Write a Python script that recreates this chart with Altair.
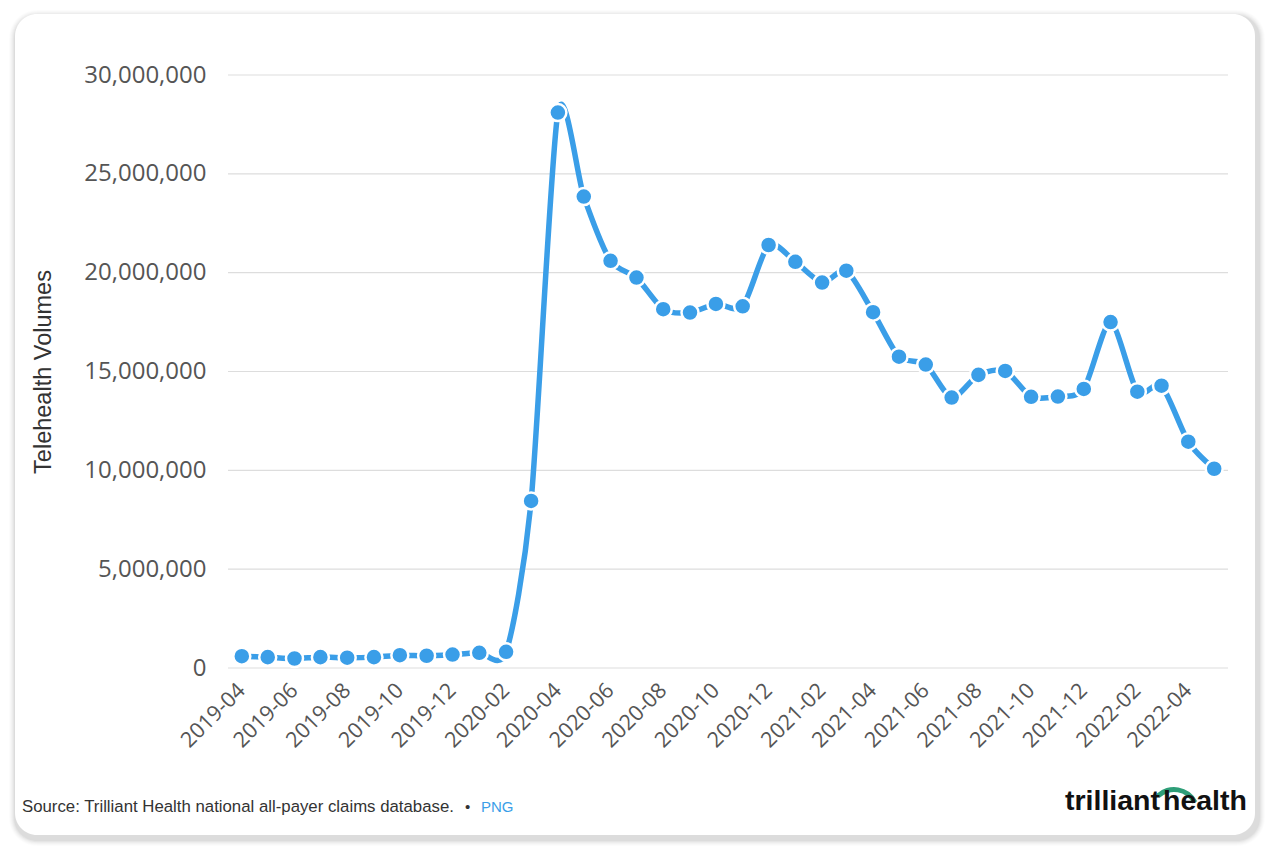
import altair as alt
import pandas as pd

# ---- data ----
months = [
    "2019-04", "2019-05", "2019-06", "2019-07", "2019-08", "2019-09", "2019-10",
    "2019-11", "2019-12", "2020-01", "2020-02", "2020-03", "2020-04", "2020-05",
    "2020-06", "2020-07", "2020-08", "2020-09", "2020-10", "2020-11", "2020-12",
    "2021-01", "2021-02", "2021-03", "2021-04", "2021-05", "2021-06", "2021-07",
    "2021-08", "2021-09", "2021-10", "2021-11", "2021-12", "2022-01", "2022-02",
    "2022-03", "2022-04", "2022-05",
]
volumes = [
    600000, 550000, 480000, 550000, 520000, 550000, 650000,
    620000, 680000, 770000, 820000, 8450000, 28100000, 23850000,
    20600000, 19750000, 18150000, 17980000, 18420000, 18300000, 21400000,
    20550000, 19500000, 20100000, 18000000, 15750000, 15350000, 13680000,
    14830000, 15030000, 13720000, 13730000, 14120000, 17500000, 13980000,
    14280000, 11450000, 10080000,
]
tick_labels = [
    "2019-04", "2019-06", "2019-08", "2019-10", "2019-12", "2020-02", "2020-04",
    "2020-06", "2020-08", "2020-10", "2020-12", "2021-02", "2021-04", "2021-06",
    "2021-08", "2021-10", "2021-12", "2022-02", "2022-04",
]
y_ticks = [0, 5000000, 10000000, 15000000, 20000000, 25000000, 30000000]
y_title = "Telehealth Volumes"
source_text = "Source: Trilliant Health national all-payer claims database."
source_link = "PNG"

df = pd.DataFrame({"date": pd.to_datetime([m + "-01" for m in months]), "value": volumes})
grid_df = pd.DataFrame({"value": y_ticks})

BLUE = "#3a9ee8"
W, H = 1000, 593


def dt(s, day=1):
    y, m = s.split("-")
    return alt.DateTime(year=int(y), month=int(m), date=day)


y_scale = alt.Scale(domain=[0, 30000000], nice=False)

x_axis = alt.Axis(
    values=[dt(t) for t in tick_labels],
    format="%Y-%m",
    labelAngle=-45,
    labelAlign="right",
    labelBaseline="middle",
    labelFontSize=21.5,
    labelColor="#555555",
    labelFont="Open Sans",
    labelPadding=19,
    grid=False,
    ticks=False,
    domain=False,
    title=None,
    labelOverlap=False,
    zindex=1,
)
y_axis = alt.Axis(
    values=y_ticks,
    format=",d",
    labelFontSize=24,
    labelColor="#555555",
    labelFont="Open Sans",
    labelPadding=22,
    grid=False,
    ticks=False,
    domain=False,
    title=y_title,
    titleFont="Liberation Sans",
    titleFontSize=23.5,
    titleFontWeight="normal",
    titleColor="#333333",
    titlePadding=28,
    zindex=1,
)

x_enc = alt.X("date:T", scale=alt.Scale(domain=[dt("2019-03", 16), dt("2022-05", 17)]), axis=x_axis)
y_enc = alt.Y("value:Q", scale=y_scale, axis=y_axis)

one = pd.DataFrame({"a": [0]})

# card shadow and card
shadows = []
for i, op in enumerate([0.035, 0.03, 0.025, 0.02, 0.015, 0.01]):
    g = i + 1
    shadows.append(
        alt.Chart(one).mark_rect(fill="#000000", opacity=op, cornerRadius=22 + g).encode(
            x=alt.value(-213 - g), x2=alt.value(1027 + g + 4),
            y=alt.value(-61 - g + 2), y2=alt.value(760 + g + 5),
        )
    )
card = alt.Chart(one).mark_rect(fill="white", cornerRadius=22).encode(
    x=alt.value(-213), x2=alt.value(1027), y=alt.value(-61), y2=alt.value(760)
)

grid = alt.Chart(grid_df).mark_rule(color="#dddddd", strokeWidth=1.2).encode(y=y_enc)

line = alt.Chart(df).mark_line(
    color=BLUE, strokeWidth=5.5, interpolate="cardinal", tension=0.25
).encode(x=x_enc, y=y_enc)
points = alt.Chart(df).mark_point(
    filled=True, fill=BLUE, size=290, stroke="white", strokeWidth=2.5, opacity=1
).encode(x=x_enc, y=y_enc)

src = alt.Chart(one).mark_text(
    text=source_text, align="left", baseline="alphabetic", fontSize=16.8,
    font="Liberation Sans", color="#333333"
).encode(x=alt.value(-206), y=alt.value(737))
bullet = alt.Chart(one).mark_text(
    text="•", align="left", baseline="alphabetic", fontSize=15,
    font="Liberation Sans", color="#333333"
).encode(x=alt.value(237), y=alt.value(737))
link = alt.Chart(one).mark_text(
    text=source_link, align="left", baseline="alphabetic", fontSize=15,
    font="Liberation Sans", color=BLUE
).encode(x=alt.value(253), y=alt.value(737))

logo1 = alt.Chart(one).mark_text(
    text="trilliant", align="right", baseline="alphabetic", fontSize=28.5,
    font="Liberation Sans", fontWeight="bold", color="#111111"
).encode(x=alt.value(932), y=alt.value(735))
logo2 = alt.Chart(one).mark_text(
    text="health", align="left", baseline="alphabetic", fontSize=28.5,
    font="Liberation Sans", fontWeight="bold", color="#111111"
).encode(x=alt.value(935), y=alt.value(735))
swoosh = alt.Chart(one).mark_arc(color="#2e9e78", radius=26, radius2=21, theta=5.53, theta2=7.38).encode(
    x=alt.value(946), y=alt.value(738)
)

chart = alt.layer(
    *shadows, card, grid, line, points, src, bullet, link, swoosh, logo1, logo2
).properties(
    width=W, height=H,
    autosize=alt.AutoSizeParams(type="none"),
    padding={"left": 220, "top": 67, "right": 40, "bottom": 180},
    background="white",
).configure_view(stroke=None)

chart.save("out.html", embed_options={"renderer": "svg", "actions": False})
